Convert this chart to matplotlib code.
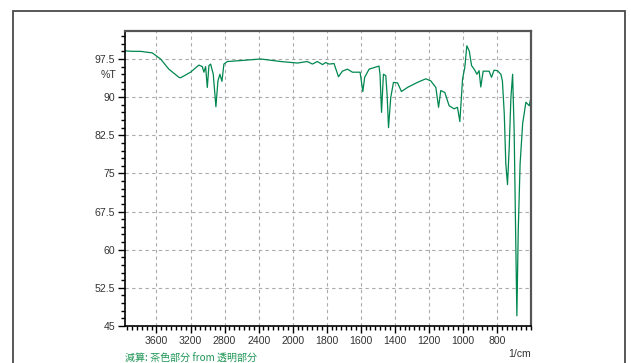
import matplotlib
matplotlib.use("Agg")
import matplotlib.pyplot as plt
import numpy as np
from matplotlib.patches import Rectangle
from matplotlib.ticker import FixedLocator

plt.rcParams["font.family"] = ["Liberation Sans", "Noto Sans CJK JP", "DejaVu Sans"]

# IR spectrum (wavenumber in 1/cm, transmittance in %T)
wavenumber = [3972, 3880, 3787, 3700, 3650, 3552, 3455, 3337, 3317, 3200, 3102,
              3062, 3043, 3023, 3003, 2984, 2964, 2933, 2902, 2878, 2855, 2831,
              2808, 2768, 2600, 2376, 2141, 1972, 1914, 1884, 1855, 1825, 1806,
              1786, 1757, 1731, 1708, 1678, 1649, 1604, 1588, 1577, 1551, 1522,
              1493, 1487, 1478, 1467, 1453, 1445, 1437, 1424, 1408, 1384, 1361,
              1326, 1267, 1218, 1189, 1159, 1143, 1130, 1106, 1081, 1052, 1032,
              1018, 1002, 989, 977, 963, 949, 930, 918, 905, 895, 881, 846, 832,
              817, 797, 777, 768, 757, 748, 738, 728, 718, 708, 699, 689, 683,
              675, 664, 649, 630, 610, 600]
transmittance = [99.1, 99.0, 99.0, 98.8, 98.7, 97.5, 95.5, 93.9, 93.8, 94.9, 96.3,
                 96.0, 94.9, 96.0, 91.9, 96.2, 96.5, 94.5, 88.1, 93.2, 94.5, 93.1,
                 96.5, 97.0, 97.2, 97.5, 97.0, 96.7, 97.0, 96.5, 97.0, 96.4, 96.8,
                 96.5, 96.6, 94.0, 95.1, 95.5, 94.9, 94.9, 91.1, 93.9, 95.5, 95.8,
                 96.1, 94.5, 87.0, 94.5, 94.2, 90.3, 84.0, 89.9, 92.9, 92.8, 91.1,
                 91.9, 92.9, 93.6, 93.2, 91.9, 88.0, 91.3, 90.9, 88.3, 87.7, 88.0,
                 85.2, 93.6, 95.8, 100.1, 99.1, 96.2, 95.3, 94.5, 95.2, 92.0, 95.1,
                 95.1, 93.9, 95.3, 95.2, 94.5, 93.2, 86.7, 76.9, 72.8, 80.1, 89.9,
                 94.5, 83.4, 60.4, 47.0, 63.7, 76.9, 84.8, 89.0, 88.3, 90.0]

x_ticks = [3600, 3200, 2800, 2400, 2000, 1800, 1600, 1400, 1200, 1000, 800]
y_ticks = [45, 52.5, 60, 67.5, 75, 82.5, 90, 97.5]
y_labels = ["45", "52.5", "60", "67.5", "75", "82.5", "90", "97.5"]

line_color = "#00874f"
text_green = "#1f9555"


# the axis is compressed by 2 above 2000 1/cm
def fwd(w):
    w = np.asarray(w, dtype=float)
    return np.where(w > 2000, 2000 + (w - 2000) / 2, w)


def inv(u):
    u = np.asarray(u, dtype=float)
    return np.where(u > 2000, 2000 + 2 * (u - 2000), u)


fig = plt.figure(figsize=(6.31, 3.63), dpi=100)
ax = fig.add_axes([125 / 631, 37 / 363, 406 / 631, 295 / 363])

ax.set_xscale("function", functions=(fwd, inv))
ax.plot(wavenumber, transmittance, color=line_color, linewidth=0.9)

ax.set_xlim(3970, 600)
ax.set_ylim(45, 103)

ax.xaxis.set_major_locator(FixedLocator(x_ticks))
minor_x = [2000 + 400 / 7 * k for k in range(1, 36)] + [2000 - 200 / 7 * k for k in range(1, 50)]
minor_x = [v for v in minor_x if 590 < v < 3980 and min(abs(v - t) for t in x_ticks) > 1]
ax.xaxis.set_minor_locator(FixedLocator(minor_x))
ax.set_xticklabels([str(t) for t in x_ticks])

ax.set_yticks(y_ticks)
ax.set_yticklabels(y_labels)
ax.yaxis.set_minor_locator(FixedLocator([v for v in np.arange(45, 103, 1.5)
                                         if min(abs(v - t) for t in y_ticks) > 0.1]))

ax.tick_params(which="major", length=5, width=1, color="black", labelsize=7.6,
               labelcolor="#333333", pad=2)
ax.tick_params(which="minor", length=3, width=1, color="black")

ax.grid(True, which="major", color="#aaaaaa", linestyle=(0, (3, 3)), linewidth=0.8)

for side in ["left", "bottom"]:
    ax.spines[side].set_color("black")
    ax.spines[side].set_linewidth(1.2)
for side in ["top", "right"]:
    ax.spines[side].set_color("#555555")
    ax.spines[side].set_linewidth(1.6)

ax.text(-0.022, 94.3, "%T", transform=ax.get_yaxis_transform(), ha="right",
        va="center", fontsize=7.6, color="#333333")

fig.text(531 / 631, 9 / 363, "1/cm", ha="right", va="center", fontsize=7.6,
         color="#333333")
fig.text(125 / 631, 4 / 363, "減算: 茶色部分 from 透明部分", ha="left", va="center",
         fontsize=7.2, color=text_green,
         family=["Noto Sans CJK JP", "Liberation Sans"])

# outer frame of the report page
fig.patches.append(Rectangle((13 / 631, -0.1), 612 / 631, 1.1 - 11 / 363,
                             transform=fig.transFigure, fill=False,
                             edgecolor="#4a4a4a", linewidth=1.3))

fig.savefig("out.png", dpi=100)
